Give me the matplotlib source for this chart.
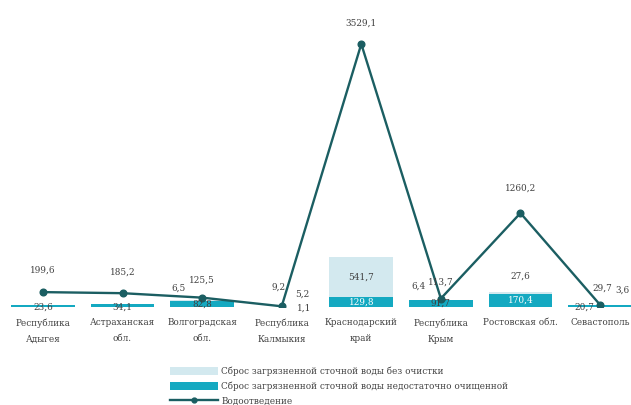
import numpy as np
import matplotlib.pyplot as plt

# Данные
regions = ["Республика\nАдыгея", "Астраханская\nобл.", "Волгоградская\nобл.",
           "Республика\nКалмыкия", "Краснодарский\nкрай", "Республика\nКрым",
           "Ростовская обл.", "Севастополь"]
treated_poor = [23.6, 34.1, 82.8, 1.1, 129.8, 91.7, 170.4, 20.7]
untreated = [0, 0, 6.5, 5.2, 541.7, 6.4, 27.6, 3.6]
drainage = [199.6, 185.2, 125.5, 9.2, 3529.1, 113.7, 1260.2, 29.7]

c_light = "#d3e9ef"
c_mid = "#14a9c1"
c_line = "#1b5e62"
txt = "#404040"

plt.rcParams['font.family'] = ['DejaVu Serif']

fig = plt.figure(figsize=(6.31, 4.05), dpi=100)
ax = fig.add_axes([0.005, 0.242, 1.009, 0.736])

x = np.arange(len(regions))
b1 = ax.bar(x, treated_poor, width=0.8, color=c_mid,
            label="Сброс загрязненной сточной воды недостаточно очищенной")
b2 = ax.bar(x, untreated, width=0.8, bottom=treated_poor, color=c_light,
            label="Сброс загрязненной сточной воды без очистки")
ln, = ax.plot(x, drainage, color=c_line, lw=1.7, marker="o", ms=4.8,
              label="Водоотведение")

ax.set_xlim(-0.5, 7.5)
ax.set_ylim(0, 4000)
for s in ax.spines.values():
    s.set_visible(False)
ax.set_yticks([])
ax.set_xticks(x)
fs = 6.4
ax.set_xticklabels(regions, fontsize=fs, color=txt, linespacing=2.0)
ax.tick_params(axis="x", length=0, pad=8)

# подписи линии
line_off = [(0, 22), (0, 21), (0, 17), (-3, 19), (0, 21), (0, 16), (0, 25), (2, 17)]
for i, v in enumerate(drainage):
    ax.annotate(f"{v:.1f}".replace(".", ","), (x[i], v), xytext=line_off[i],
                textcoords="offset pixels", ha="center", va="center",
                fontsize=fs, color=txt)

# подписи нижних сегментов
for i, v in enumerate(treated_poor):
    col = "white" if i in (4, 6) else txt
    dy = -1 if i in (0, 1, 3, 7) else 0
    dx = {3: 22, 7: -16}.get(i, 0)
    ax.annotate(f"{v:.1f}".replace(".", ","), (x[i], v / 2), xytext=(dx, dy),
                textcoords="offset pixels", ha="center", va="center",
                fontsize=fs, color=col)

# подписи верхних сегментов
up_off = {2: (-24, 12), 3: (21, 13), 4: (0, 0), 5: (-22, 14), 6: (0, 17), 7: (22, 15)}
for i, v in enumerate(untreated):
    if v == 0:
        continue
    dx, dy = up_off[i]
    ax.annotate(f"{v:.1f}".replace(".", ","), (x[i], treated_poor[i] + v / 2),
                xytext=(dx, dy), textcoords="offset pixels", ha="center",
                va="center", fontsize=fs, color=txt)

leg = fig.legend(handles=[b2, b1, ln], loc="upper left",
                 bbox_to_anchor=(0.262, 0.105), frameon=False, fontsize=fs,
                 handlelength=5.4, handleheight=1.0, labelspacing=0.6,
                 handletextpad=0.4, borderpad=0)
for t in leg.get_texts():
    t.set_color(txt)
leg.legend_handles[2].set_markersize(3.5)

fig.savefig("out.png", dpi=100)
